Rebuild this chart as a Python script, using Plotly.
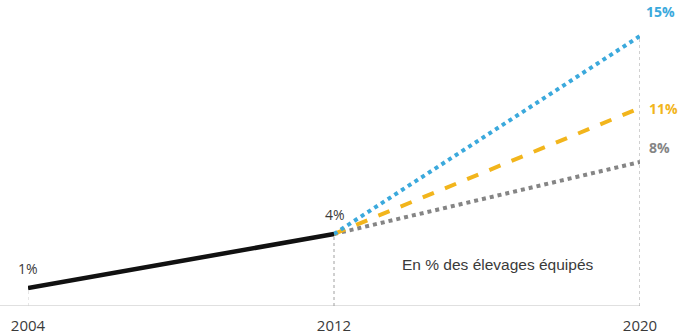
import plotly.graph_objects as go

hist_years = [2004, 2012]
hist_vals = [1, 4]
proj_years = [2012, 2020]
high_vals = [4, 15]
mid_vals = [4, 11]
low_vals = [4, 8]
tick_years = [2004, 2012, 2020]
note = "En % des élevages équipés"

BLUE = "#3ba9dc"
YELLOW = "#f2b51c"
GRAY = "#858585"
BLACK = "#111111"
TXT = "#3a3a3a"

fig = go.Figure()
fig.add_trace(go.Scatter(x=proj_years, y=low_vals, mode="lines",
                         line=dict(color=GRAY, width=4, dash="dot")))
fig.add_trace(go.Scatter(x=proj_years, y=mid_vals, mode="lines",
                         line=dict(color=YELLOW, width=4, dash="dash")))
fig.add_trace(go.Scatter(x=proj_years, y=high_vals, mode="lines",
                         line=dict(color=BLUE, width=4, dash="dot")))
fig.add_trace(go.Scatter(x=hist_years, y=hist_vals, mode="lines",
                         line=dict(color=BLACK, width=4.5)))

# baseline
fig.add_shape(type="line", xref="paper", yref="y", x0=-28/612, x1=1.0,
              y0=0, y1=0, line=dict(color="#d6d6d6", width=1.5), layer="below")
# vertical guide lines
fig.add_shape(type="line", xref="x", yref="y", x0=2004, x1=2004, y0=0, y1=hist_vals[0],
              line=dict(color="#d0d0d0", width=1, dash="dot"), layer="below")
fig.add_shape(type="line", xref="x", yref="y", x0=2012, x1=2012, y0=0, y1=hist_vals[1],
              line=dict(color="#a0a0a0", width=1, dash="dot"), layer="below")
fig.add_shape(type="line", xref="x", yref="y", x0=2020, x1=2020, y0=0, y1=high_vals[1],
              line=dict(color="#a0a0a0", width=1, dash="dot"), layer="below")

lab_font = "Open Sans, DejaVu Sans, sans-serif"
fig.add_annotation(x=hist_years[0], y=hist_vals[0], text=f"{hist_vals[0]}%", showarrow=False,
                   xanchor="center", yanchor="bottom", yshift=8, xshift=0,
                   font=dict(family=lab_font, size=14, color=TXT))
fig.add_annotation(x=hist_years[1], y=hist_vals[1], text=f"{hist_vals[1]}%", showarrow=False,
                   xanchor="center", yanchor="bottom", yshift=8, xshift=1,
                   font=dict(family=lab_font, size=14, color=TXT))
fig.add_annotation(x=2020, y=high_vals[1], text=f"<b>{high_vals[1]}%</b>", showarrow=False,
                   xanchor="left", yanchor="bottom", xshift=4, yshift=13,
                   font=dict(family=lab_font, size=14, color=BLUE))
fig.add_annotation(x=2020, y=mid_vals[1], text=f"<b>{mid_vals[1]}%</b>", showarrow=False,
                   xanchor="left", yanchor="middle", xshift=7,
                   font=dict(family=lab_font, size=14, color=YELLOW))
fig.add_annotation(x=2020, y=low_vals[1], text=f"<b>{low_vals[1]}%</b>", showarrow=False,
                   xanchor="left", yanchor="bottom", xshift=7, yshift=3,
                   font=dict(family=lab_font, size=14, color=GRAY))
fig.add_annotation(x=2013.73, y=2.3, text=note, showarrow=False,
                   xanchor="left", yanchor="middle",
                   font=dict(family="Liberation Sans, Arial, sans-serif", size=15.5, color=TXT))

fig.update_layout(
    width=681, height=336,
    margin=dict(l=28, r=41, t=0, b=30),
    paper_bgcolor="white", plot_bgcolor="white",
    showlegend=False,
    xaxis=dict(range=[2004, 2020], showgrid=False, zeroline=False, showline=False,
               tickmode="array", tickvals=tick_years, ticktext=[str(t) for t in tick_years],
               ticks="", ticklabelstandoff=9,
               tickfont=dict(family=lab_font, size=15, color=TXT)),
    yaxis=dict(range=[0, 17], showgrid=False, zeroline=False, showline=False,
               showticklabels=False),
)
fig.write_html("out.html")
